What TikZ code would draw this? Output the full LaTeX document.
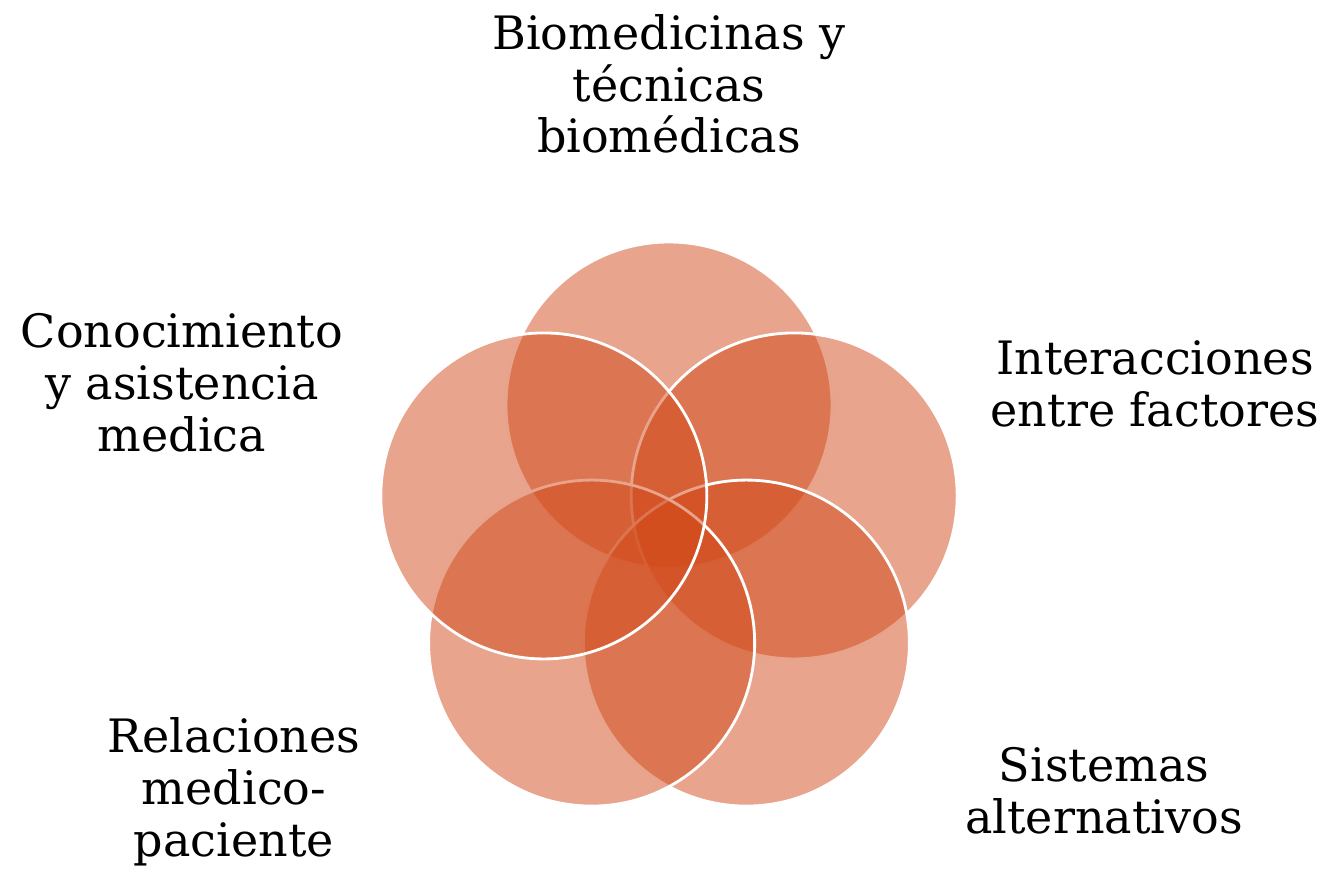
\documentclass[tikz,border=0pt]{standalone}
\usepackage{fontspec}
\setmainfont{DejaVu Serif}
\usetikzlibrary{calc}
\definecolor{venn}{RGB}{209,73,25}
\begin{document}
\begin{tikzpicture}[x=0.02cm,y=-0.02cm,
  vc/.style={fill=venn,fill opacity=0.5,draw=white,draw opacity=1,line width=1.6pt},
  lbl/.style={align=center,inner sep=0pt,font=\fontsize{26.2}{29.5}\selectfont}]
\useasboundingbox (0,0) rectangle (1321,872);
\coordinate (o) at (669,536.6);
\foreach \a/\n in {90/top,18/right,-54/bright,-126/bleft,162/left}{
  \path[vc] ($(o)+(\a:131.6 and -131.6)$) circle[radius=163];
}
\node[lbl] (t1) at (669,84) {Biomedicinas y\\técnicas\\biomédicas};
\node[lbl] (t2) at (182,383) {Conocimiento\\y asistencia\\medica};
\node[lbl] (t3) at (1155,384) {Interacciones\\entre factores};
\node[lbl] (t4) at (234,792) {Relaciones\\medico-\\paciente};
\node[lbl] (t5) at (1104,791) {Sistemas\\alternativos};
\end{tikzpicture}
\end{document}
